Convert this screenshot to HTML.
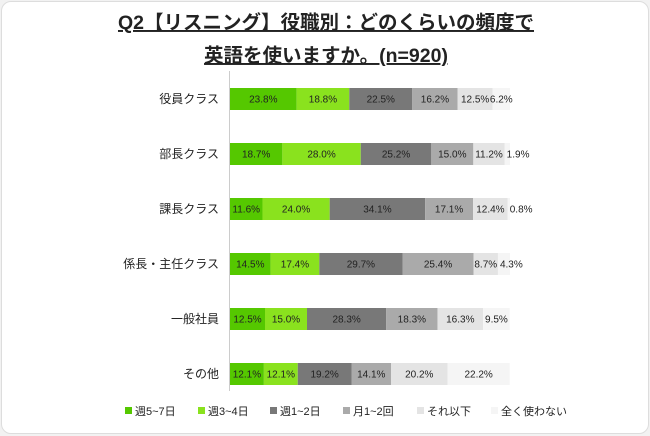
<!DOCTYPE html>
<html><head><meta charset="utf-8"><style>
body{margin:0;background:#f2f2f2;font-family:"Liberation Sans","Noto Sans CJK JP",sans-serif}
#wrap{position:absolute;left:1px;top:1px;width:646px;height:431px;background:#fff;border:1px solid #ddd;border-radius:10px}
</style></head><body>
<div id="wrap">
<svg id="chart" width="650" height="435" style="position:absolute;left:-1px;top:-1px">
<text x="325" y="28" text-anchor="middle" font-size="19.5" font-weight="bold" fill="#222" text-decoration="underline">Q2【リスニング】役職別：どのくらいの頻度で</text>
<text x="325" y="61" text-anchor="middle" font-size="19.5" font-weight="bold" fill="#222" text-decoration="underline">英語を使いますか。(n=920)</text>
<line x1="228.5" y1="70" x2="228.5" y2="390" stroke="#ccc"/>
</svg>
</div>
<script>
const categories=["役員クラス","部長クラス","課長クラス","係長・主任クラス","一般社員","その他"];
const seriesNames=["週5~7日","週3~4日","週1~2日","月1~2回","それ以下","全く使わない"];
const s1=[23.8,18.7,11.6,14.5,12.5,12.1];
const s2=[18.8,28.0,24.0,17.4,15.0,12.1];
const s3=[22.5,25.2,34.1,29.7,28.3,19.2];
const s4=[16.2,15.0,17.1,25.4,18.3,14.1];
const s5=[12.5,11.2,12.4,8.7,16.3,20.2];
const s6=[6.2,1.9,0.8,4.3,9.5,22.2];
const series=[s1,s2,s3,s4,s5,s6];
const colors=["#55c800","#8ae21e","#787878","#aaaaaa","#e4e4e4","#f5f5f5"];
const svg=document.getElementById('chart');
const NS="http://www.w3.org/2000/svg";
const x0=229,W=280,rowY0=98,rowStep=55,bh=22;
function xs(v){return v/100*W;}
function ys(i){return rowY0+i*rowStep;}
function mk(t,a){const e=document.createElementNS(NS,t);for(const k in a)e.setAttribute(k,a[k]);svg.appendChild(e);return e;}
categories.forEach((c,i)=>{
 const t=mk('text',{x:218,y:ys(i)+4,'text-anchor':'end','font-size':12,fill:'#222'});
 t.textContent=c;
 
 
 let acc=0;
 series.forEach((s,j)=>{
  const v=s[i],x=x0+xs(acc),w=xs(v);
  const r=mk('rect',{x:x,y:ys(i)-bh/2,width:w,height:bh,fill:colors[j]});
  
  
  const small=w<14;
  const lt=mk('text',{x:small?x+2:x+w/2,y:ys(i)+3.5,'text-anchor':small?'start':'middle','font-size':10,fill:'#222'});
  lt.textContent=v.toFixed(1)+'%';
  
  
  acc+=v;
 });
});
const legX=[124,197,269,342,416,490];
seriesNames.forEach((n,j)=>{
 const r=mk('rect',{x:legX[j],y:406,width:7,height:7,fill:colors[j]});
 
 
 const t=mk('text',{x:legX[j]+10,y:414,'font-size':11,fill:'#222'});
 t.textContent=n;
 
 
});
</script>
</body></html>
